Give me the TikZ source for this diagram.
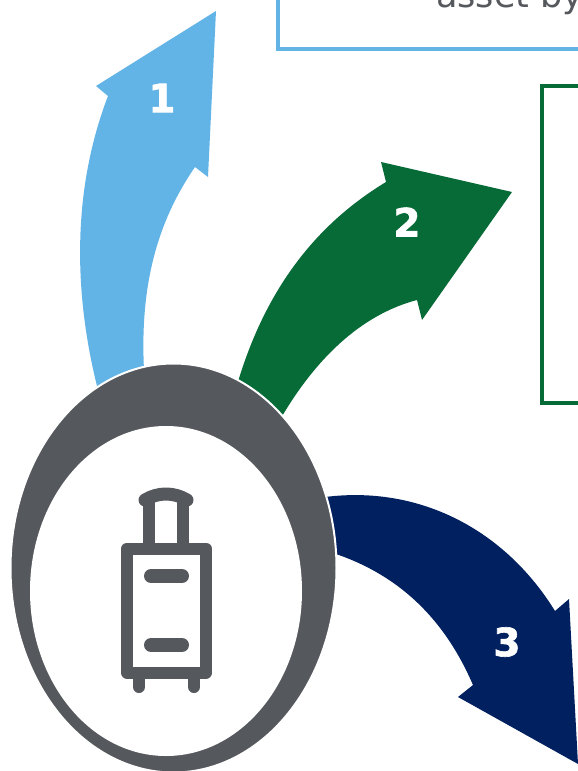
\documentclass[tikz,border=0pt]{standalone}
\usepackage{fontspec}
\setmainfont{DejaVu Sans}
\newfontfamily\tripBold[FakeBold=1.6]{DejaVu Sans Bold}
\usetikzlibrary{shapes.geometric}
\definecolor{tripSky}{HTML}{63B4E6}
\definecolor{tripGreen}{HTML}{076B38}
\definecolor{tripNavy}{HTML}{002060}
\definecolor{tripGrey}{HTML}{55585C}
\tikzset{
  tripNum/.style={font=\tripBold\fontsize{39}{39}\selectfont, text=white, inner sep=0pt},
  tripFrame/.style={line width=4pt, fill=white},
  tripRing/.style={shape=ellipse, inner sep=0pt, fill=tripGrey},
  tripIcon/.style={draw=tripGrey, line width=12pt, line cap=round, line join=round}
}

\begin{document}
\begin{tikzpicture}[x=1pt, y=-1pt]
    \clip (0,0) rectangle (578,771);
    \fill[white] (0,0) rectangle (578,771);

    % text frames
    \draw[tripFrame, draw=tripSky] (278,-30) rectangle (600,49);
    \node[anchor=base west, inner sep=0pt, text=tripGrey,
      font=\fontsize{35}{35}\selectfont] (assetText) at (436,8) {asset by};
    \draw[tripFrame, draw=tripGreen] (541.5,85.5) rectangle (600,403);

    % arrows
    \fill[tripSky] (98,390) .. controls (75,300) and (70,195) .. (108,96)
      -- (96,86) -- (216,11) -- (208,177) -- (195,167)
      .. controls (155,225) and (140,290) .. (144,370) -- cycle;
    \fill[tripGreen] (237,385) .. controls (265,290) and (315,225) .. (386,182)
      -- (381,162) -- (512,192) -- (422,320) -- (417,300)
      .. controls (360,315) and (315,360) .. (281,418) -- cycle;
    \fill[tripNavy] (325,497) .. controls (420,485) and (505,530) .. (555,611)
      -- (569,599) -- (578,764) -- (458,697) -- (473,685)
      .. controls (445,620) and (400,575) .. (333,553) -- cycle;

    \node[tripNum] (numOne) at (162,98) {1};
    \node[tripNum] (numTwo) at (407,222) {2};
    \node[tripNum] (numThree) at (507,642) {3};

    % suitcase ring
    \node[tripRing, draw=white, line width=2pt, minimum width=326pt, minimum height=409pt]
      (ringOuter) at (173.5,568) {};
    \node[tripRing, fill=white, minimum width=272pt, minimum height=330pt]
      (ringInner) at (166,591) {};

    % suitcase
    \draw[tripIcon] (127,548.5) rectangle (206,672.5);
    \draw[tripIcon, line width=14pt] (151,576) -- (182,576);
    \draw[tripIcon, line width=14pt] (151,645) -- (182,645);
    \draw[tripIcon] (139,680) -- (139,687);
    \draw[tripIcon] (194,680) -- (194,687);
    \draw[tripIcon, line cap=butt] (149,545) -- (149,497);
    \draw[tripIcon, line cap=butt] (183,545) -- (183,497);
    \draw[tripIcon, line width=13pt] (145,500) .. controls (158,492) and (174,492) .. (187,500);
  \end{tikzpicture}
\end{document}
